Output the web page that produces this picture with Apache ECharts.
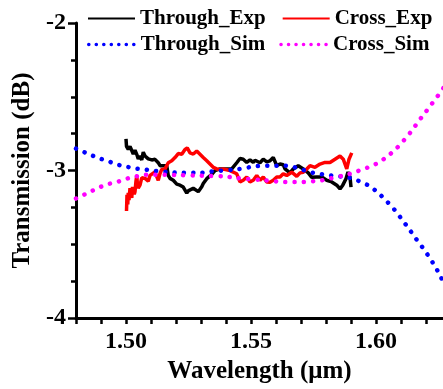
<!DOCTYPE html>
<html>
<head>
<meta charset="utf-8">
<script src="https://cdn.jsdelivr.net/npm/echarts@6/dist/echarts.min.js"></script>
<style>
  html, body { margin: 0; padding: 0; background: #fff; }
  #chart { width: 443px; height: 389px; }
</style>
</head>
<body>
<div id="chart"></div>
<script>
// measured through port (black)
const throughExpWl = [1.5000, 1.5002, 1.5009, 1.5016, 1.5023, 1.5029, 1.5036, 1.5043, 1.5049, 1.5056,
  1.5063, 1.5069, 1.5076, 1.5083, 1.5089, 1.5096, 1.5103, 1.5109, 1.5116, 1.5123,
  1.5129, 1.5136, 1.5143, 1.5149, 1.5156, 1.5163, 1.5169, 1.5176, 1.5183, 1.5189,
  1.5196, 1.5203, 1.5209, 1.5216, 1.5229, 1.5236, 1.5243, 1.5249, 1.5256, 1.5269,
  1.5276, 1.5289, 1.5296, 1.5303, 1.5309, 1.5316, 1.5323, 1.5329, 1.5343, 1.5356,
  1.5376, 1.5403, 1.5423, 1.5429, 1.5443, 1.5456, 1.5469, 1.5483, 1.5496, 1.5509,
  1.5516, 1.5523, 1.5536, 1.5549, 1.5563, 1.5576, 1.5589, 1.5603, 1.5616, 1.5629,
  1.5636, 1.5656, 1.5669, 1.5676, 1.5689, 1.5696, 1.5709, 1.5729, 1.5743, 1.5749,
  1.5763, 1.5769, 1.5783, 1.5803, 1.5823, 1.5843, 1.5856, 1.5862, 1.5867, 1.5880,
  1.5888, 1.5896, 1.5900];
const throughExpDb = [-2.785, -2.836, -2.857, -2.836, -2.849, -2.888, -2.862, -2.890, -2.921, -2.901,
  -2.928, -2.875, -2.901, -2.914, -2.921, -2.928, -2.928, -2.921, -2.924, -2.934,
  -2.947, -2.967, -2.957, -2.967, -2.978, -2.967, -3.033, -3.053, -3.066, -3.066,
  -3.079, -3.092, -3.086, -3.099, -3.112, -3.125, -3.153, -3.138, -3.132, -3.120,
  -3.132, -3.143, -3.132, -3.110, -3.088, -3.077, -3.055, -3.055, -3.026, -3.000,
  -2.989, -2.989, -2.989, -2.978, -2.947, -2.918, -2.923, -2.945, -2.928, -2.945,
  -2.930, -2.934, -2.947, -2.923, -2.941, -2.934, -2.912, -2.967, -2.956, -2.961,
  -2.989, -3.016, -2.989, -2.978, -2.967, -2.967, -2.989, -3.016, -3.046, -3.033,
  -3.044, -3.044, -3.044, -3.066, -3.077, -3.099, -3.125, -3.112, -3.099, -3.055,
  -3.010, -3.044, -3.112];

// measured cross port (red)
const crossExpWl = [1.5002, 1.5004, 1.5007, 1.5009, 1.5012, 1.5016, 1.5019, 1.5023, 1.5026, 1.5029,
  1.5033, 1.5036, 1.5040, 1.5043, 1.5046, 1.5049, 1.5056,
  1.5063, 1.5076, 1.5089, 1.5096, 1.5103, 1.5116, 1.5129, 1.5136, 1.5143, 1.5156,
  1.5169, 1.5183, 1.5196, 1.5209, 1.5223, 1.5236, 1.5245, 1.5256, 1.5269, 1.5283,
  1.5296, 1.5309, 1.5323, 1.5336, 1.5349, 1.5363, 1.5376, 1.5389, 1.5416, 1.5443,
  1.5456, 1.5469, 1.5483, 1.5496, 1.5509, 1.5523, 1.5536, 1.5549, 1.5563, 1.5576,
  1.5589, 1.5603, 1.5616, 1.5629, 1.5643, 1.5663, 1.5683, 1.5696, 1.5709, 1.5723,
  1.5736, 1.5756, 1.5776, 1.5796, 1.5816, 1.5836, 1.5856, 1.5869, 1.5883, 1.5892,
  1.5903];
const crossExpDb = [-3.274, -3.164, -3.230, -3.151, -3.200, -3.120, -3.150, -3.186, -3.110, -3.099,
  -3.160, -3.143, -3.070, -3.033, -3.100, -3.118, -3.099,
  -3.049, -3.053, -3.072, -3.033, -3.046, -3.010, -3.066, -3.020, -2.993, -2.989,
  -2.947, -2.934, -2.912, -2.885, -2.890, -2.857, -2.847, -2.880, -2.888, -2.868,
  -2.890, -2.912, -2.934, -2.956, -2.978, -2.989, -2.993, -2.989, -3.000, -3.022,
  -3.077, -3.066, -3.044, -3.077, -3.066, -3.033, -3.066, -3.044, -3.077, -3.079,
  -3.066, -3.044, -3.044, -3.022, -3.033, -3.011, -3.039, -3.016, -3.011, -2.989,
  -2.967, -2.978, -2.956, -2.945, -2.945, -2.923, -2.901, -2.923, -2.989, -2.923,
  -2.880];

// simulated through port (blue)
const throughSimWl = [1.4800, 1.4853, 1.4891, 1.4928, 1.4965, 1.5003, 1.5040, 1.5077, 1.5115, 1.5188,
  1.5225, 1.5300, 1.5336, 1.5448, 1.5524, 1.5599, 1.5636, 1.5747, 1.5820, 1.5896,
  1.5969, 1.6007, 1.6043, 1.6076, 1.6104, 1.6131, 1.6157, 1.6184, 1.6209, 1.6232,
  1.6253, 1.6270];
const throughSimDb = [-2.851, -2.890, -2.916, -2.936, -2.959, -2.974, -2.987, -2.993, -3.002, -3.013,
  -3.015, -3.015, -3.007, -2.991, -2.970, -2.967, -2.967, -3.015, -3.033, -3.050,
  -3.100, -3.149, -3.208, -3.270, -3.332, -3.393, -3.455, -3.516, -3.577, -3.638,
  -3.700, -3.760];

// simulated cross port (magenta)
const crossSimWl = [1.4800, 1.4853, 1.4891, 1.4928, 1.4965, 1.5003, 1.5040, 1.5077, 1.5200, 1.5300,
  1.5400, 1.5437, 1.5550, 1.5636, 1.5709, 1.5749, 1.5783, 1.5896, 1.5933, 1.5969,
  1.6007, 1.6044, 1.6080, 1.6113, 1.6143, 1.6169, 1.6197, 1.6224, 1.6251, 1.6270];
const crossSimDb = [-3.190, -3.147, -3.116, -3.092, -3.077, -3.055, -3.040, -3.028, -3.030, -3.035,
  -3.040, -3.050, -3.065, -3.077, -3.077, -3.072, -3.066, -3.022, -3.000, -2.978,
  -2.949, -2.906, -2.853, -2.792, -2.730, -2.669, -2.607, -2.546, -2.485, -2.440];

const xTicks = [1.50, 1.55, 1.60];

const FONT = "Liberation Serif";
const zip = (xs, ys) => xs.map((x, i) => [x, ys[i]]);

const chart = echarts.init(document.getElementById("chart"), null, { renderer: "canvas" });

const legendText = { fontFamily: FONT, fontWeight: "bold", fontSize: 21, color: "#000" };
const noSymbol = { opacity: 0 };
const dotLegend = { type: [0.1, 7.4], cap: "round", width: 3.5 };

chart.setOption({
  animation: false,
  grid: { left: 76, right: 0, top: 23, bottom: 62, containLabel: false },
  legend: [
    {
      data: [
        { name: "Through_Exp", itemStyle: noSymbol },
        { name: "Cross_Exp", itemStyle: noSymbol },
      ],
      left: 87, top: 8, padding: 0, itemWidth: 47, itemHeight: 14, itemGap: 16,
      textStyle: legendText, selectedMode: false,
    },
    {
      data: [
        { name: "Through_Sim", itemStyle: noSymbol, lineStyle: dotLegend },
        { name: "Cross_Sim", itemStyle: noSymbol, lineStyle: dotLegend },
      ],
      left: 87, top: 34, padding: 0, itemWidth: 47, itemHeight: 14, itemGap: 14,
      textStyle: legendText, selectedMode: false,
    },
  ],
  xAxis: {
    type: "value",
    min: 1.48,
    max: 1.6268,
    interval: 0.01,
    name: "Wavelength (\u03bcm)",
    nameLocation: "middle",
    nameGap: 36,
    nameTextStyle: { fontFamily: FONT, fontWeight: "bold", fontSize: 25, color: "#000" },
    axisLine: { show: true, onZero: false, lineStyle: { color: "#000", width: 3 } },
    axisTick: { show: true, inside: false, length: 6, lineStyle: { color: "#000", width: 2.5 } },
    axisLabel: {
      margin: 12,
      fontFamily: FONT, fontWeight: "bold", fontSize: 24, color: "#000",
      showMaxLabel: false,
      formatter: (v) => {
        const hit = xTicks.find((t) => Math.abs(t - v) < 1e-6);
        return hit !== undefined ? hit.toFixed(2) : "";
      },
    },
    splitLine: { show: false },
  },
  yAxis: {
    type: "value",
    min: -4,
    max: -2,
    interval: 1,
    name: "Transmission (dB)",
    nameLocation: "middle",
    nameGap: 40,
    nameTextStyle: { fontFamily: FONT, fontWeight: "bold", fontSize: 25, color: "#000" },
    axisLine: { show: true, onZero: false, lineStyle: { color: "#000", width: 3 } },
    axisTick: { show: true, inside: false, length: 8, lineStyle: { color: "#000", width: 2.5 } },
    minorTick: { show: true, splitNumber: 4, length: 5, lineStyle: { color: "#000", width: 2.5 } },
    axisLabel: { margin: 10, fontFamily: FONT, fontWeight: "bold", fontSize: 24, color: "#000" },
    splitLine: { show: false },
  },
  series: [
    {
      name: "Through_Exp", type: "line", data: zip(throughExpWl, throughExpDb),
      symbol: "none", lineStyle: { color: "#000000", width: 3.5 }, itemStyle: { color: "#000000" },
    },
    {
      name: "Cross_Exp", type: "line", data: zip(crossExpWl, crossExpDb),
      symbol: "none", lineStyle: { color: "#ff0000", width: 3.5 }, itemStyle: { color: "#ff0000" },
    },
    {
      name: "Through_Sim", type: "line", data: zip(throughSimWl, throughSimDb),
      symbol: "none", smooth: 0.3,
      lineStyle: { color: "#0000ff", width: 4.5, type: [0.1, 9.2], cap: "round" },
      itemStyle: { color: "#0000ff" },
    },
    {
      name: "Cross_Sim", type: "line", data: zip(crossSimWl, crossSimDb),
      symbol: "none", smooth: 0.3,
      lineStyle: { color: "#ff00ff", width: 4.5, type: [0.1, 9.2], cap: "round" },
      itemStyle: { color: "#ff00ff" },
    },
  ],
});
</script>
</body>
</html>
